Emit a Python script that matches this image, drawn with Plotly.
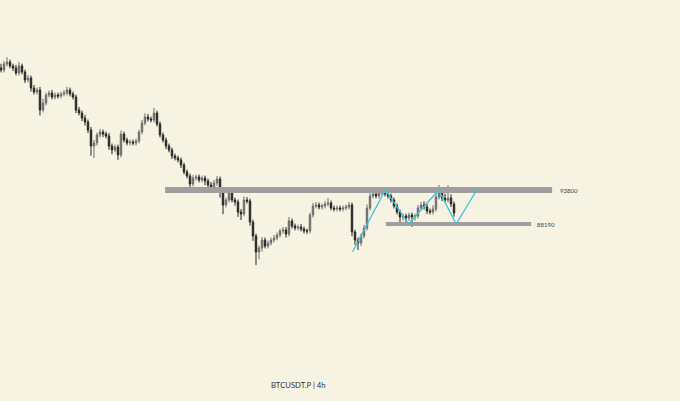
import plotly.graph_objects as go

# ---- data ----
closes = [113600, 114590, 114920, 114260, 113930, 113105, 114260, 113270, 111950, 112280,
          110630, 109970, 110300, 107000, 108155, 109475, 109805, 109145, 109475, 109310,
          109640, 109805, 110300, 109640, 109145, 107000, 106505, 105680, 105020, 103700,
          101060, 101555, 102875, 103370, 103040, 102710, 101060, 100400, 100895, 99575,
          103040, 102050, 101555, 101720, 101555, 101885, 103370, 104855, 105845, 105515,
          105350, 106505, 104690, 102875, 102050, 101060, 100400, 99410, 99080, 98750,
          97925, 96770, 96110, 94790, 95780, 95945, 95450, 95780, 95285, 94625,
          93800, 94955, 95615, 93470, 91325, 92150, 93305, 92150, 91820, 90170,
          89840, 92150, 91985, 88520, 86210, 83570, 84230, 85550, 84560, 85055,
          85550, 85880, 86375, 87035, 87200, 86540, 88685, 87860, 87530, 87695,
          87365, 87035, 87035, 89675, 91160, 91325, 90995, 91160, 91490, 91655,
          90830, 90665, 90830, 90665, 90830, 90995, 91325, 86870, 85550, 85055,
          86210, 87530, 90830, 92810, 93140, 92810, 93305, 93470, 93140, 92810,
          92150, 91160, 90170, 89345, 89510, 89180, 89675, 89345, 89510, 90830,
          91325, 90995, 90335, 90170, 90665, 92645, 93305, 92480, 92150, 92480,
          91490, 90005]
first_open = 113930
wick_up = [700, 500, 800, 400, 400, 500, 660, 400, 400, 500,
           400, 500, 400, 500, 700, 400, 400, 500, 400, 400,
           400, 500, 500, 400, 400, 400, 500, 400, 500, 400,
           500, 500, 400, 500, 400, 400, 500, 400, 400, 400,
           600, 400, 400, 400, 400, 400, 400, 500, 600, 500,
           400, 825, 400, 400, 400, 400, 400, 400, 400, 400,
           400, 400, 400, 400, 500, 400, 400, 400, 400, 400,
           500, 500, 500, 400, 500, 400, 600, 400, 400, 400,
           500, 600, 500, 400, 400, 400, 400, 500, 400, 400,
           400, 500, 400, 400, 500, 500, 660, 400, 400, 400,
           500, 400, 400, 400, 500, 500, 400, 400, 500, 825,
           400, 400, 400, 400, 400, 400, 500, 400, 400, 400,
           400, 500, 600, 500, 600, 500, 700, 825, 600, 500,
           400, 400, 400, 400, 400, 400, 400, 400, 400, 500,
           500, 600, 500, 400, 600, 700, 1320, 600, 700, 2100,
           600, 400]
wick_dn = [400, 400, 400, 400, 500, 400, 400, 400, 500, 400,
           600, 400, 400, 900, 400, 400, 400, 400, 400, 400,
           400, 400, 400, 400, 400, 500, 400, 500, 600, 500,
           1600, 1980, 400, 400, 500, 400, 600, 700, 400, 800,
           400, 400, 400, 400, 400, 400, 400, 400, 400, 400,
           400, 400, 400, 400, 400, 500, 400, 500, 400, 400,
           500, 400, 400, 600, 400, 400, 400, 400, 700, 600,
           500, 400, 500, 900, 1500, 400, 400, 400, 600, 800,
           1000, 400, 400, 600, 800, 2150, 1200, 600, 400, 400,
           400, 400, 400, 400, 400, 600, 400, 400, 400, 400,
           400, 400, 500, 400, 400, 400, 400, 400, 400, 400,
           400, 400, 400, 400, 400, 400, 400, 700, 800, 1150,
           500, 400, 400, 400, 400, 400, 400, 400, 400, 400,
           400, 400, 400, 1320, 600, 700, 500, 1650, 600, 400,
           400, 400, 500, 400, 400, 400, 400, 500, 400, 400,
           500, 600]

resistance = 93800
support = 88190
zig_idx = [117.2, 128.1, 135.9, 145.9, 151.7, 158.6]
zig_price = [83620, 93800, 88190, 93800, 88190, 93800]
title_text = "BTCUSDT.P | 4h"

# ---- build OHLC ----
opens = [first_open] + closes[:-1]
highs = [max(o, c) + w for o, c, w in zip(opens, closes, wick_up)]
lows = [min(o, c) - w for o, c, w in zip(opens, closes, wick_dn)]
idx = list(range(len(closes)))

BG = "#F7F3E2"
fig = go.Figure()
fig.add_trace(go.Candlestick(
    x=idx, open=opens, high=highs, low=lows, close=closes,
    increasing=dict(line=dict(color="#6e6e6e", width=1), fillcolor="#6e6e6e"),
    decreasing=dict(line=dict(color="#262626", width=1), fillcolor="#262626"),
    whiskerwidth=0, showlegend=False, hoverinfo="skip"))

# horizontal levels
fig.add_trace(go.Scatter(x=[54.7, 183.7], y=[resistance, resistance], mode="lines",
                         line=dict(color="#9e9e9e", width=6), showlegend=False, hoverinfo="skip"))
fig.add_trace(go.Scatter(x=[128.3, 176.7], y=[support, support], mode="lines",
                         line=dict(color="#9e9e9e", width=4), showlegend=False, hoverinfo="skip"))
# zigzag
fig.add_trace(go.Scatter(x=zig_idx, y=zig_price, mode="lines",
                         line=dict(color="#3cc3dc", width=1.3), showlegend=False, hoverinfo="skip"))

fig.add_annotation(x=189.3, y=resistance, text=str(resistance), showarrow=False,
                   font=dict(family="Lato, Open Sans, sans-serif", size=6, color="#444444"))
fig.add_annotation(x=181.7, y=support - 150, text=str(support), showarrow=False,
                   font=dict(family="Lato, Open Sans, sans-serif", size=6, color="#444444"))
fig.add_annotation(xref="paper", yref="paper", x=298.5 / 680, y=1 - 392 / 401, text=title_text,
                   showarrow=False,
                   font=dict(family="Lato, Open Sans, sans-serif", size=7.7, color="#333333"))

fig.update_layout(
    width=680, height=401, margin=dict(l=0, r=0, t=0, b=0),
    paper_bgcolor=BG, plot_bgcolor=BG,
    xaxis=dict(range=[-0.33, 226.33], visible=False, rangeslider=dict(visible=False),
               showgrid=False, zeroline=False),
    yaxis=dict(range=[58985, 125150], visible=False, showgrid=False, zeroline=False),
)
fig.write_html("out.html", config={"displayModeBar": False},
               post_script="document.body.style.margin='0';document.body.style.overflow='hidden';")
